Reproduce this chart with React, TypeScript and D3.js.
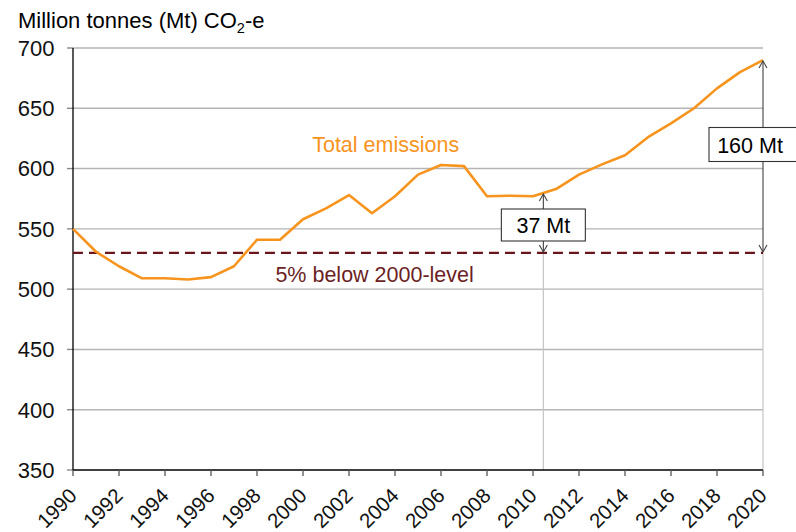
import React from "react";
import * as d3 from "d3";

const years = d3.range(1990, 2021);
const emissions = [550, 531, 519, 509, 509, 508, 510, 519, 541, 541, 558, 567, 578, 563, 577, 595, 603, 602, 577, 577.5, 577, 583, 595, 603.5, 611, 626, 637.5, 650, 666.5, 680, 690];
const targetLevel = 530;
const yTicks = [350, 400, 450, 500, 550, 600, 650, 700];
const xTickYears = d3.range(1990, 2021, 2);
const gap37Year = 2010.45;
const gap37Label = "37 Mt";
const gap160Label = "160 Mt";

const W = 796;
const H = 532;
const FONT = "'Liberation Sans', Arial, sans-serif";

export default function App() {
  const x = d3.scaleLinear().domain([1990, 2020]).range([73, 763]);
  const y = d3.scaleLinear().domain([350, 700]).range([470, 48]);
  const line = d3
    .line<number>()
    .x((_, i) => x(years[i]))
    .y((d) => y(d));
  const interp = (yr: number) => {
    const i = Math.floor(yr - 1990);
    const t = yr - 1990 - i;
    return emissions[i] * (1 - t) + emissions[i + 1] * t;
  };
  const v37 = interp(gap37Year);
  const x37 = x(gap37Year);
  const x160 = x(2020);
  const v160 = emissions[emissions.length - 1];
  const arrowCol = "#404040";
  const head = (ax: number, ay: number, dir: number) =>
    `M${ax - 4},${ay + dir * 7} L${ax},${ay} L${ax + 4},${ay + dir * 7}`;

  return (
    <svg width={W} height={H} style={{ position: "absolute", left: 0, top: 0, background: "#fff" }} fontFamily={FONT}>
      <rect width={W} height={H} fill="#fff" />
      <text x={18} y={28} fontSize={22} fill="#000">
        Million tonnes (Mt) CO<tspan fontSize={14.5} dy={5}>2</tspan>
        <tspan dy={-5}>-e</tspan>
      </text>
      {yTicks.map((t) => (
        <g key={t}>
          {t !== 350 && <line x1={x(1990)} x2={x(2020)} y1={y(t)} y2={y(t)} stroke="#b5b5b5" strokeWidth={1.4} />}
          <line x1={67} x2={73} y1={y(t)} y2={y(t)} stroke="#8a8a8a" strokeWidth={1.4} />
          <text x={54.5} y={y(t)} dy="0.36em" textAnchor="end" fontSize={22} fill="#111">
            {t}
          </text>
        </g>
      ))}
      {/* light vertical guide lines */}
      <line x1={x37} x2={x37} y1={y(targetLevel)} y2={y(350)} stroke="#c4c4c4" strokeWidth={1.2} />
      <line x1={x160} x2={x160} y1={y(targetLevel)} y2={y(350)} stroke="#c4c4c4" strokeWidth={1.2} />
      {/* axes */}
      <line x1={73} x2={73} y1={y(700)} y2={y(350)} stroke="#000" strokeWidth={1.3} />
      <line x1={73} x2={x(2020)} y1={y(350)} y2={y(350)} stroke="#000" strokeWidth={1.3} />
      {xTickYears.map((yr) => (
        <g key={yr}>
          <line x1={x(yr)} x2={x(yr)} y1={470} y2={476} stroke="#555" strokeWidth={1.3} />
          <text
            transform={`translate(${x(yr) + 5},${497}) rotate(-45)`}
            textAnchor="end"
            fontSize={20.5}
            fill="#111"
          >
            {yr}
          </text>
        </g>
      ))}
      {/* target line */}
      <line
        x1={x(1990)}
        x2={x(2020)}
        y1={y(targetLevel)}
        y2={y(targetLevel)}
        stroke="#6b1419"
        strokeWidth={2.2}
        strokeDasharray="10 6"
      />
      <path d={line(emissions) || ""} fill="none" stroke="#f7941d" strokeWidth={2.6} strokeLinejoin="round" />
      <text x={x(2000.4)} y={y(613.7)} fontSize={21.5} fill="#f7941d">
        Total emissions
      </text>
      <text x={x(1998.8)} y={y(505.8)} fontSize={21.5} fill="#6b1f24">
        5% below 2000-level
      </text>
      {/* 37 Mt arrow */}
      <line x1={x37} x2={x37} y1={y(v37) + 1} y2={y(targetLevel) - 1} stroke={arrowCol} strokeWidth={1.1} />
      <path d={head(x37, y(v37) + 1, 1)} fill="none" stroke={arrowCol} strokeWidth={1.1} />
      <path d={head(x37, y(targetLevel) - 1, -1)} fill="none" stroke={arrowCol} strokeWidth={1.1} />
      <rect x={x37 - 42} y={209} width={84} height={32} fill="#fff" stroke="#333" strokeWidth={1.1} />
      <text x={x37} y={225} dy="0.36em" textAnchor="middle" fontSize={21.5} fill="#000">
        {gap37Label}
      </text>
      {/* 160 Mt arrow */}
      <line x1={x160} x2={x160} y1={y(v160) + 1} y2={y(targetLevel) - 1} stroke={arrowCol} strokeWidth={1.1} />
      <path d={head(x160, y(v160) + 1, 1)} fill="none" stroke={arrowCol} strokeWidth={1.1} />
      <path d={head(x160, y(targetLevel) - 1, -1)} fill="none" stroke={arrowCol} strokeWidth={1.1} />
      <rect x={709} y={127.5} width={92} height={34} fill="#fff" stroke="#333" strokeWidth={1.1} />
      <text x={750} y={145} dy="0.36em" textAnchor="middle" fontSize={21.5} fill="#000">
        {gap160Label}
      </text>
    </svg>
  );
}
